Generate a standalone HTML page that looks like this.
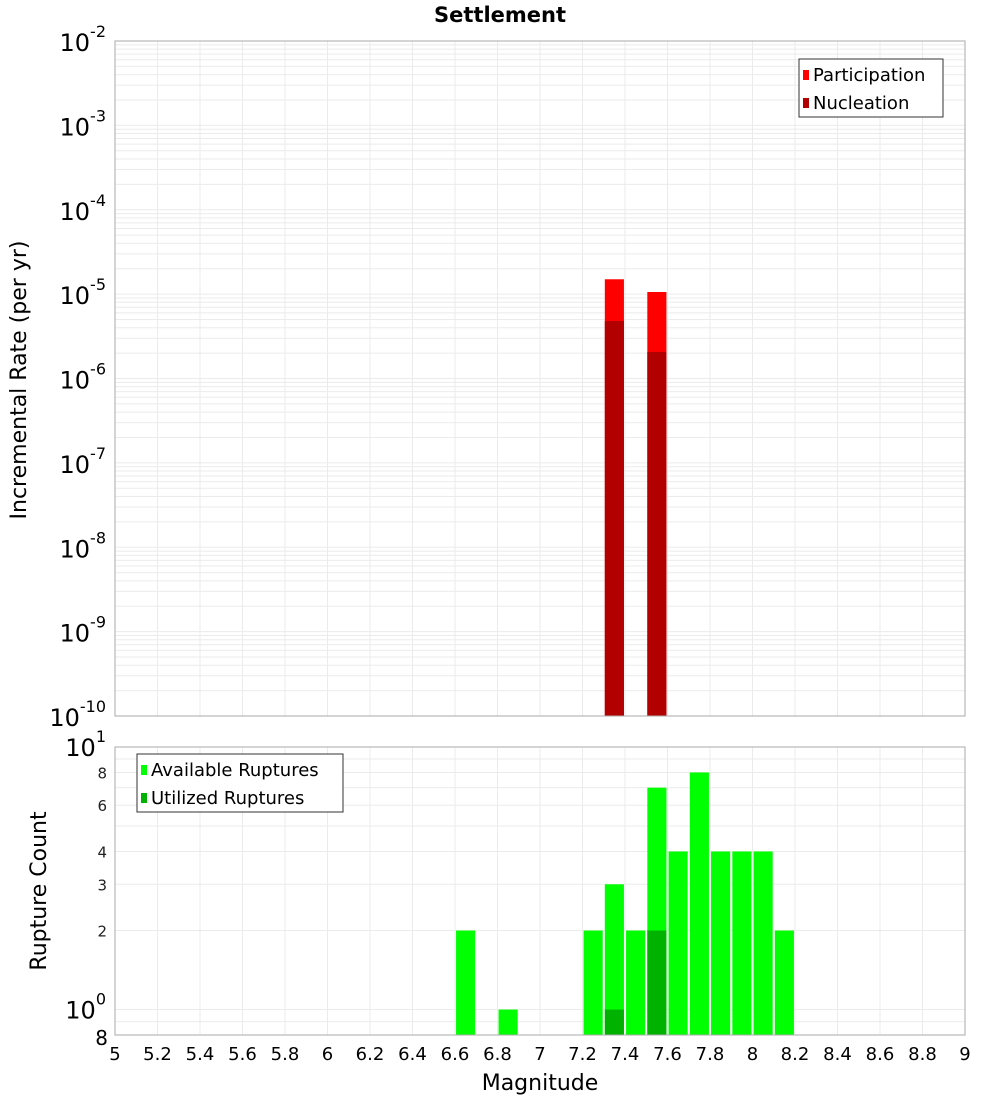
<!DOCTYPE html>
<html><head><meta charset="utf-8"><style>
body{margin:0;background:#fff;width:1000px;height:1100px;overflow:hidden;font-family:"DejaVu Sans","Liberation Sans",sans-serif}
svg text{font-family:"DejaVu Sans","Liberation Sans",sans-serif}
</style></head><body>
<svg id="c" width="1000" height="1100"></svg>
<script>
const mags=[5,5.2,5.4,5.6,5.8,6,6.2,6.4,6.6,6.8,7,7.2,7.4,7.6,7.8,8,8.2,8.4,8.6,8.8,9];
const topMags=[7.35,7.55];
const participation=[1.5e-5,1.06e-5];
const nucleation=[4.8e-6,2.06e-6];
const botMags=[6.65,6.85,7.25,7.35,7.45,7.55,7.65,7.75,7.85,7.95,8.05,8.15];
const available=[2,1,2,3,2,7,4,8,4,4,4,2];
const utilMags=[7.35,7.55];
const utilized=[1,2];
const topExp=[-2,-3,-4,-5,-6,-7,-8,-9,-10];
const botTicks=["8","6","4","3","2"];
const botTickVals=[8,6,4,3,2];

const NS="http://www.w3.org/2000/svg",svg=document.getElementById('c');
function el(t,a,p){const e=document.createElementNS(NS,t);for(const k in a)e.setAttribute(k,a[k]);(p||svg).appendChild(e);return e;}
const L=115,R=965,T1=41,B1=716,T2=747,B2=1035;
const x=m=>L+(m-5)*(R-L)/4;
const y1=v=>T1+(-2-Math.log10(v))*(B1-T1)/8;
const lmin=Math.log10(0.8),lmax=1;
const y2=v=>B2-(Math.log10(v)-lmin)*(B2-T2)/(lmax-lmin);

// title
let t=el('text',{x:500,y:22,'text-anchor':'middle','font-size':21,'font-weight':'bold'});t.textContent='Settlement';


// grids
const g=el('g',{stroke:'#ebebeb','stroke-width':1});

for(const m of mags){el('line',{x1:x(m),x2:x(m),y1:T1,y2:B1},g);el('line',{x1:x(m),x2:x(m),y1:T2,y2:B2},g);}
for(let e=-10;e<-2;e++)for(let k=1;k<10;k++){const yy=y1(k*Math.pow(10,e));el('line',{x1:L,x2:R,y1:yy,y2:yy},g);}
for(const v of [0.8,0.9,1,2,3,4,5,6,7,8,9,10]){const yy=y2(v);el('line',{x1:L,x2:R,y1:yy,y2:yy},g);}

// top bars
const bw=(R-L)/4*0.09;
topMags.forEach((m,i)=>{
 const b=el('rect',{x:x(m)-bw/2,y:y1(participation[i]),width:bw,height:B1-y1(participation[i]),fill:'#ff0000'});
 
 const n=el('rect',{x:x(m)-bw/2,y:y1(nucleation[i]),width:bw,height:B1-y1(nucleation[i]),fill:'#b20000'});
 
});
botMags.forEach((m,i)=>{
 const b=el('rect',{x:x(m)-bw/2,y:y2(available[i]),width:bw,height:B2-y2(available[i]),fill:'#00ff00'});
 
});
utilMags.forEach((m,i)=>{
 const b=el('rect',{x:x(m)-bw/2,y:y2(utilized[i]),width:bw,height:B2-y2(utilized[i]),fill:'#00b200'});
 
});

// frames
let f=el('rect',{x:L,y:T1,width:R-L,height:B1-T1,fill:'none',stroke:'#aaa'});

f=el('rect',{x:L,y:T2,width:R-L,height:B2-T2,fill:'none',stroke:'#aaa'});


// top y ticks
topExp.forEach(e=>{
 const tt=el('text',{x:106,y:y1(Math.pow(10,e))+10,'text-anchor':'end','font-size':24});
 tt.textContent='10';
 const s=el('tspan',{dy:-14,'font-size':16},tt);s.textContent=String(e);
 
});
// bottom y ticks
function pow(yy,e){const tt=el('text',{x:106,y:yy,'text-anchor':'end','font-size':24});tt.textContent='10';const s=el('tspan',{dy:-14,'font-size':16},tt);s.textContent=e;
 }
pow(y2(10)+9,'1');pow(y2(1)+9,'0');
botTicks.forEach((s,i)=>{const tt=el('text',{x:107,y:y2(botTickVals[i])+6,'text-anchor':'end','font-size':15,fill:'#222'});tt.textContent=s;
 });
t=el('text',{x:108,y:B2+10,'text-anchor':'end','font-size':20});t.textContent='8';


// x ticks
mags.forEach(m=>{const tt=el('text',{x:x(m),y:1060,'text-anchor':'middle','font-size':18});tt.textContent=String(m);
 });
t=el('text',{x:540,y:1090,'text-anchor':'middle','font-size':22});t.textContent='Magnitude';

t=el('text',{x:0,y:0,'text-anchor':'middle','font-size':22,transform:'translate(26,380) rotate(-90)'});t.textContent='Incremental Rate (per yr)';

t=el('text',{x:0,y:0,'text-anchor':'middle','font-size':22,transform:'translate(46,891) rotate(-90)'});t.textContent='Rupture Count';


// legends
function legend(x0,y0,w,items,name){
 const lg=el('g',{});
 el('rect',{x:x0,y:y0,width:w,height:58,fill:'#fff',stroke:'#333'},lg);
 items.forEach((it,i)=>{el('rect',{x:x0+4,y:y0+11+i*28,width:6,height:10,fill:it[1]},lg);
  const tx=el('text',{x:x0+14,y:y0+22+i*28,'font-size':18},lg);tx.textContent=it[0];});
}
legend(799,59,144,[['Participation','#ff0000'],['Nucleation','#b20000']],'top-legend');
legend(137,754,206,[['Available Ruptures','#00ff00'],['Utilized Ruptures','#00b200']],'bottom-legend');
</script>
</body></html>
